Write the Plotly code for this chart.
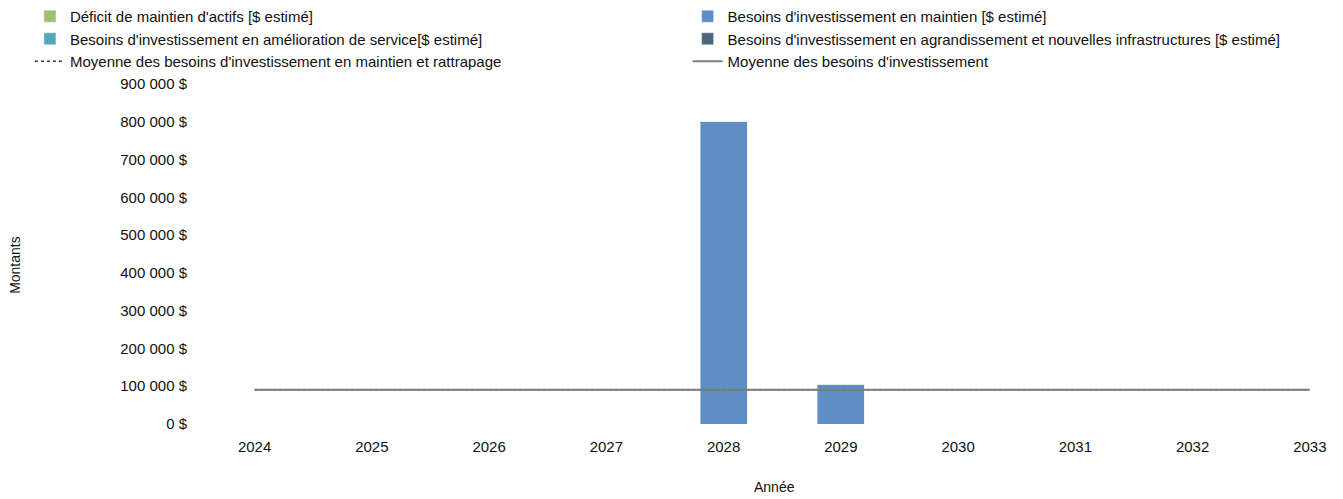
import plotly.graph_objects as go

annees = [2024, 2025, 2026, 2027, 2028, 2029, 2030, 2031, 2032, 2033]
deficit_maintien = [0, 0, 0, 0, 0, 0, 0, 0, 0, 0]
besoins_maintien = [0, 0, 0, 0, 800000, 105000, 0, 0, 0, 0]
besoins_amelioration = [0, 0, 0, 0, 0, 0, 0, 0, 0, 0]
besoins_agrandissement = [0, 0, 0, 0, 0, 0, 0, 0, 0, 0]
moyenne_maintien_rattrapage = [90500] * 10
moyenne_besoins = [90500] * 10

y_tick_vals = [0, 100000, 200000, 300000, 400000, 500000, 600000, 700000, 800000, 900000]
y_tick_text = ["0 $", "100 000 $", "200 000 $", "300 000 $", "400 000 $", "500 000 $",
               "600 000 $", "700 000 $", "800 000 $", "900 000 $"]

font = "Liberation Sans, Arial, sans-serif"

fig = go.Figure()
fig.add_trace(go.Bar(x=annees, y=deficit_maintien, name="Déficit de maintien d'actifs [$ estimé]",
                     marker_color="#9dbf6e", width=0.4, legend="legend"))
fig.add_trace(go.Bar(x=annees, y=besoins_maintien, name="Besoins d'investissement en maintien [$ estimé]",
                     marker_color="#5f8ec4", width=0.4, legend="legend2"))
fig.add_trace(go.Bar(x=annees, y=besoins_amelioration, name="Besoins d'investissement en amélioration de service[$ estimé]",
                     marker_color="#53a8bd", width=0.4, legend="legend"))
fig.add_trace(go.Bar(x=annees, y=besoins_agrandissement,
                     name="Besoins d'investissement en agrandissement et nouvelles infrastructures [$ estimé]",
                     marker_color="#4d6678", width=0.4, legend="legend2"))
fig.add_trace(go.Scatter(x=annees, y=moyenne_maintien_rattrapage, mode="lines",
                         name="Moyenne des besoins d'investissement en maintien et rattrapage",
                         line=dict(color="#3a3a3a", width=1.5, dash="dot"), legend="legend"))
fig.add_trace(go.Scatter(x=annees, y=moyenne_besoins, mode="lines",
                         name="Moyenne des besoins d'investissement",
                         line=dict(color="#74807f", width=2), legend="legend2"))

leg_common = dict(orientation="v", yref="container", xref="container", yanchor="top", xanchor="left",
                  font=dict(size=15, family=font, color="#111"), traceorder="normal",
                  itemwidth=30, bgcolor="rgba(0,0,0,0)")

fig.update_layout(
    width=1343, height=499,
    barmode="stack",
    plot_bgcolor="white", paper_bgcolor="white",
    font=dict(family=font, size=15, color="#111"),
    margin=dict(l=196, r=5, t=84, b=75, autoexpand=False),
    showlegend=True,
    legend=dict(x=0.0223, y=1.0, **leg_common),
    legend2=dict(x=0.512, y=1.0, **leg_common),
    xaxis=dict(tickmode="array", tickvals=annees,
               ticktext=[str(a) for a in annees], range=[2023.5, 2033.24],
               showgrid=False, zeroline=False, showline=False, ticks="", automargin=False,
               ticklabelstandoff=12, tickfont=dict(size=15)),
    yaxis=dict(tickmode="array",
               tickvals=y_tick_vals, ticktext=y_tick_text, range=[0, 900000], automargin=False,
               ticklabelstandoff=8,
               showgrid=False, zeroline=False, showline=False, tickfont=dict(size=15)),
    annotations=[
        dict(text="Année", xref="paper", yref="paper", x=0.507, y=-0.185, showarrow=False,
             xanchor="center", yanchor="middle", font=dict(size=14, family=font, color="#111")),
        dict(text="Montants", xref="paper", yref="paper", x=-0.1585, y=0.468, showarrow=False,
             textangle=-90, xanchor="center", yanchor="middle",
             font=dict(size=14, family=font, color="#111")),
    ],
)
fig.write_html("out.html", config={"displayModeBar": False},
               post_script="document.body.style.margin='0';")
